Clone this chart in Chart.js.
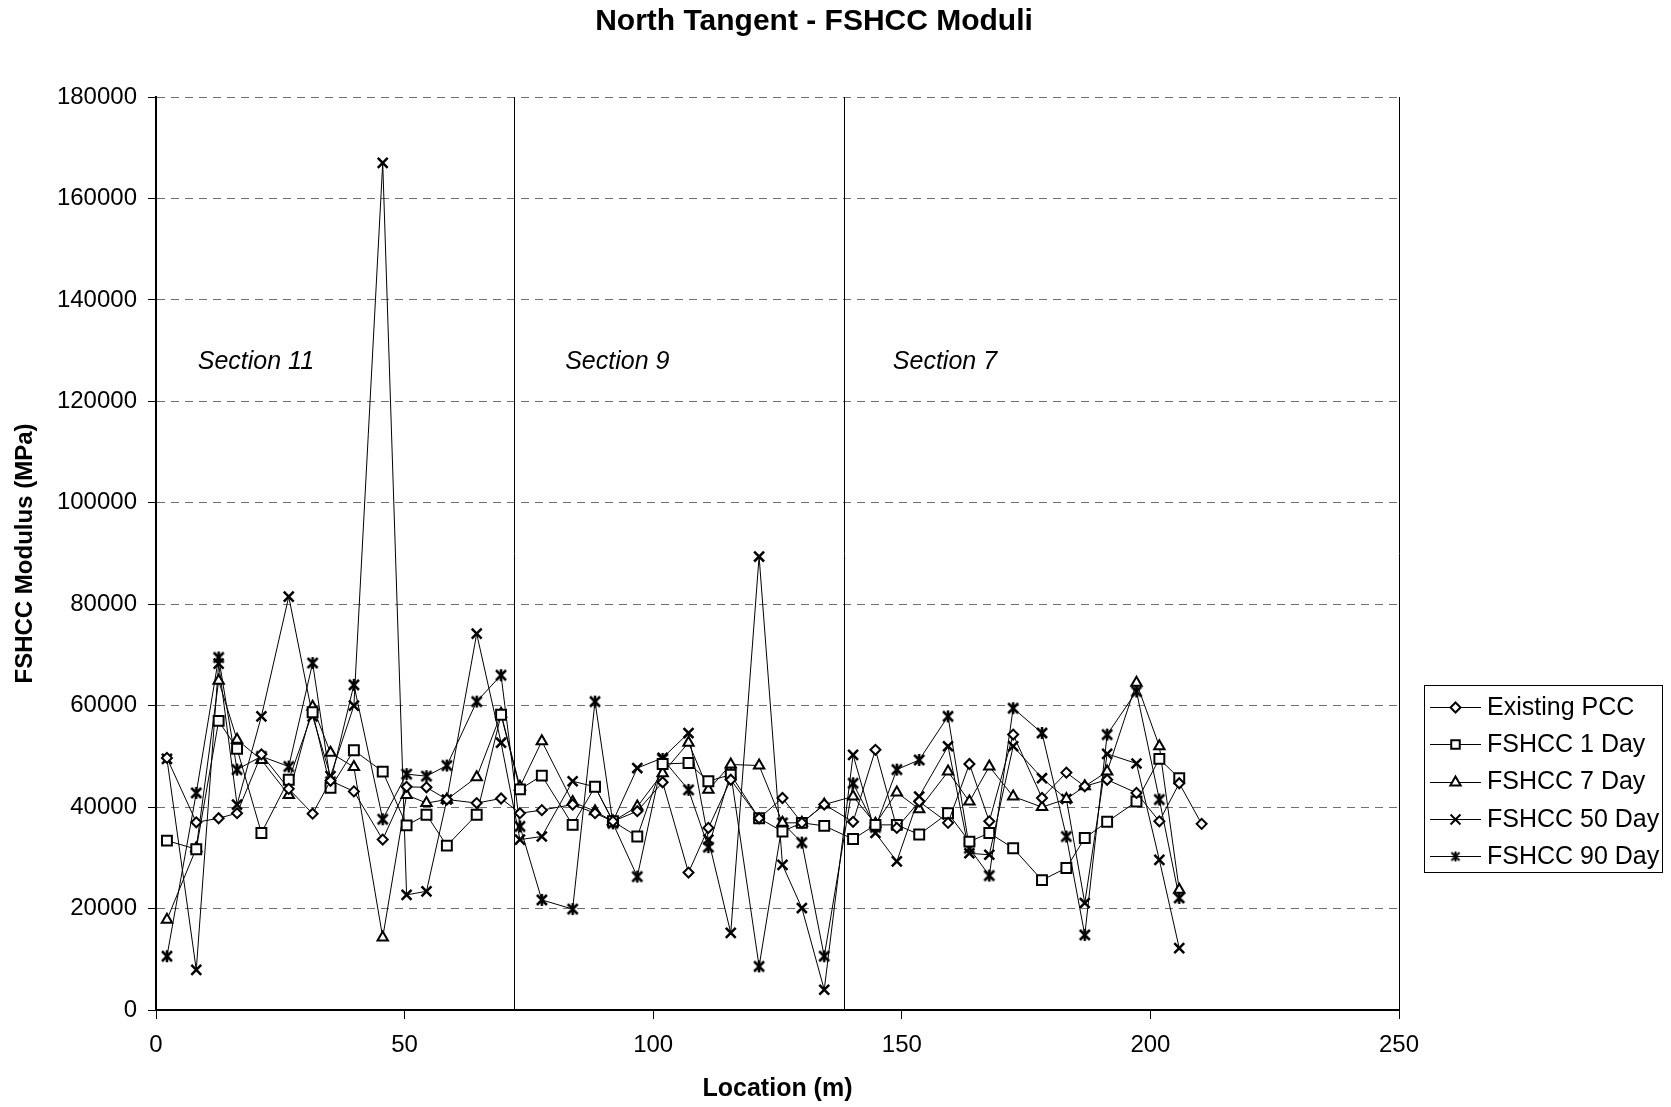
<!DOCTYPE html>
<html>
<head>
<meta charset="utf-8">
<script src="https://cdn.jsdelivr.net/npm/chart.js@4.4.1/dist/chart.umd.min.js"></script>
<style>
  html, body { margin: 0; padding: 0; background: #fff; }
  canvas { display: block; }
</style>
</head>
<body>
<canvas id="myChart" width="1671" height="1107"></canvas>
<script>
// location along the tangent (m), shared by all series
var locations = [2.2, 8.1, 12.6, 16.3, 21.2, 26.7, 31.5, 35.1, 39.8, 45.6,
    50.4, 54.4, 58.5, 64.5, 69.4, 73.2, 77.6, 83.8, 88.3, 91.9,
    96.8, 101.9, 107.1, 111.1, 115.6, 121.3, 126.0, 129.9, 134.4, 140.2,
    144.7, 149.0, 153.5, 159.3, 163.6, 167.6, 172.4, 178.2, 183.1, 186.8,
    191.3, 197.2, 201.8, 205.8, 210.3];

var existingPCC = [49700, 37000, 37800, 38800, 50400, 43600, 38700, 45200, 43100, 33600,
    44000, 43900, 41500, 40800, 41700, 38800, 39400, 40500, 38800, 37200,
    39200, 44900, 27100, 35900, 45400, 37800, 41800, 36900, 40500, 37100,
    51300, 35900, 41100, 36900, 48500, 37200, 54300, 41800, 46800, 44100,
    45400, 42800, 37200, 44700, 36700];

var fshcc1Day = [33400, 31700, 57000, 51500, 34900, 45400, 58700, 43800, 51200, 47000,
    36400, 38500, 32400, 38500, 58200, 43500, 46200, 36500, 44000, 37200,
    34200, 48500, 48700, 45100, 46400, 37800, 35200, 36900, 36300, 33700,
    36500, 36500, 34600, 38800, 33200, 34900, 31900, 25600, 28000, 33900,
    37100, 41100, 49500, 45700, null];

var fshcc7Day = [17800, 31900, 64900, 53300, 49300, 42400, 59800, 50700, 47900, 14300,
    42400, 40800, 41500, 45900, 58400, 44000, 53000, 41000, 39200, 37200,
    40100, 46700, 52700, 43400, 48400, 48200, 36900, 36900, 40500, 42100,
    36700, 42900, 39600, 47000, 41100, 48000, 42100, 40000, 41600, 44100,
    47000, 64500, 52000, 23700, null];

var fshcc50Day = [49500, 7900, 68300, 40500, 57900, 81500, 57900, 46100, 60000, 167000,
    22700, 23400, 41500, 74200, 52700, 33600, 34200, 45100, 44000, 37200,
    47700, 49700, 54600, 33600, 15200, 89400, 28600, 20100, 4000, 50300,
    34900, 29300, 42100, 52000, 30900, 30600, 52000, 45700, 41600, 21100,
    50500, 48600, 29600, 12200, null];

var fshcc90Day = [10600, 42800, 69500, 47400, 50000, 48000, 68400, 45000, 64100, 37600,
    46500, 46100, 48200, 60800, 66000, 36200, 21700, 19900, 60800, 36800,
    26300, 49500, 43400, 32100, 46700, 8600, 36900, 33000, 10600, 44700,
    36000, 47400, 49300, 57900, 31900, 26500, 59500, 54600, 34200, 14800,
    54300, 62800, 41500, 22100, null];

var seriesNames = ['Existing PCC', 'FSHCC 1 Day', 'FSHCC 7 Day', 'FSHCC 50 Day', 'FSHCC 90 Day'];
var yTicks = [0, 20000, 40000, 60000, 80000, 100000, 120000, 140000, 160000, 180000];
var xTicks = [0, 50, 100, 150, 200, 250];

var sectionBreaks = [72, 138.4];
var sectionNames = ['Section 11', 'Section 9', 'Section 7'];
var sectionStarts = [8.4, 82.3, 148.2];
var sectionLabelValue = 127700;

var FONT = '"Liberation Sans", Arial, Helvetica, sans-serif';

function toPoints(values) {
    var pts = [];
    for (var i = 0; i < locations.length; i++) {
        if (values[i] != null) pts.push({ x: locations[i], y: values[i] });
    }
    return pts;
}

// x with a vertical bar, like the spreadsheet's 90 day marker
function makeAsterisk(size, lw) {
    var c = document.createElement('canvas');
    c.width = size;
    c.height = size;
    var g = c.getContext('2d');
    g.strokeStyle = '#000';
    g.lineWidth = lw;
    g.beginPath();
    g.moveTo(2, 2); g.lineTo(size - 2, size - 2);
    g.moveTo(size - 2, 2); g.lineTo(2, size - 2);
    g.moveTo(size / 2, 1); g.lineTo(size / 2, size - 1);
    g.stroke();
    return c;
}

var asterisk = makeAsterisk(14, 2.5);
var asteriskSmall = makeAsterisk(12, 2);

var styles = [
    { pointStyle: 'rectRot', radius: 5, bw: 2 },
    { pointStyle: 'rect', radius: 7, bw: 2 },
    { pointStyle: 'triangle', radius: 6, bw: 2 },
    { pointStyle: 'crossRot', radius: 7, bw: 2.5 },
    { pointStyle: asterisk, radius: 7, bw: 2 }
];
var legendStyles = [
    { pointStyle: 'rectRot', radius: 5 },
    { pointStyle: 'rect', radius: 6 },
    { pointStyle: 'triangle', radius: 6 },
    { pointStyle: 'crossRot', radius: 7 },
    { pointStyle: asteriskSmall, radius: 6 }
];

var allValues = [existingPCC, fshcc1Day, fshcc7Day, fshcc50Day, fshcc90Day];
var datasets = [];
for (var s = 0; s < allValues.length; s++) {
    datasets.push({
        label: seriesNames[s],
        data: toPoints(allValues[s]),
        showLine: true,
        borderColor: '#000',
        borderWidth: 1,
        backgroundColor: '#fff',
        pointStyle: styles[s].pointStyle,
        pointRadius: styles[s].radius,
        pointHoverRadius: styles[s].radius,
        pointBorderColor: '#000',
        pointBackgroundColor: '#fff',
        pointBorderWidth: styles[s].bw,
        tension: 0
    });
}

var extras = {
    id: 'extras',
    beforeDatasetsDraw: function (chart) {
        var ctx = chart.ctx;
        var a = chart.chartArea;
        var xs = chart.scales.x;
        ctx.save();
        ctx.strokeStyle = '#000';
        ctx.lineWidth = 1;
        ctx.beginPath();
        ctx.moveTo(Math.round(a.right) + 0.5, a.top);
        ctx.lineTo(Math.round(a.right) + 0.5, a.bottom);
        for (var i = 0; i < sectionBreaks.length; i++) {
            var px = Math.round(xs.getPixelForValue(sectionBreaks[i])) + 0.5;
            ctx.moveTo(px, a.top);
            ctx.lineTo(px, a.bottom);
        }
        ctx.stroke();
        ctx.restore();
    },
    afterDraw: function (chart) {
        var ctx = chart.ctx;
        var xs = chart.scales.x;
        var ys = chart.scales.y;
        ctx.save();
        ctx.fillStyle = '#000';

        // title
        ctx.font = 'bold 30px ' + FONT;
        ctx.textAlign = 'center';
        ctx.textBaseline = 'middle';
        ctx.fillText('North Tangent - FSHCC Moduli', 814, 22);

        // section names
        ctx.font = 'italic 25px ' + FONT;
        ctx.textAlign = 'left';
        for (var i = 0; i < sectionNames.length; i++) {
            ctx.fillText(sectionNames[i], xs.getPixelForValue(sectionStarts[i]), ys.getPixelForValue(sectionLabelValue));
        }

        // legend
        var L = 1424, T = 685, W = 238, H = 187;
        ctx.fillStyle = '#fff';
        ctx.fillRect(L, T, W, H);
        ctx.strokeStyle = '#000';
        ctx.lineWidth = 1;
        ctx.strokeRect(L + 0.5, T + 0.5, W, H);
        ctx.font = '25px ' + FONT;
        for (var k = 0; k < seriesNames.length; k++) {
            var y = 707 + k * 37.3;
            ctx.strokeStyle = '#000';
            ctx.lineWidth = 1;
            ctx.beginPath();
            ctx.moveTo(1430, Math.round(y) + 0.5);
            ctx.lineTo(1481, Math.round(y) + 0.5);
            ctx.stroke();
            ctx.fillStyle = '#fff';
            ctx.lineWidth = 2;
            Chart.helpers.drawPoint(ctx, {
                pointStyle: legendStyles[k].pointStyle,
                radius: legendStyles[k].radius,
                borderWidth: 2,
                rotation: 0
            }, 1455.5, Math.round(y) + 0.5);
            ctx.fillStyle = '#000';
            ctx.textAlign = 'left';
            ctx.textBaseline = 'middle';
            ctx.fillText(seriesNames[k], 1487, y + 1);
        }
        ctx.restore();
    }
};

var ctx = document.getElementById('myChart').getContext('2d');
var myChart = new Chart(ctx, {
    type: 'scatter',
    data: { datasets: datasets },
    options: {
        responsive: false,
        animation: false,
        devicePixelRatio: 1,
        layout: {
            autoPadding: false,
            padding: { left: 0, top: 97, right: 272, bottom: 0 }
        },
        plugins: {
            legend: { display: false },
            title: { display: false },
            tooltip: { enabled: false }
        },
        scales: {
            x: {
                type: 'linear',
                min: 0,
                max: 250,
                afterFit: function (scale) { scale.height = 97; },
                afterBuildTicks: function (scale) {
                    scale.ticks = xTicks.map(function (v) { return { value: v }; });
                },
                ticks: {
                    color: '#000',
                    font: { family: FONT, size: 24 },
                    padding: 12,
                    maxRotation: 0,
                    callback: function (v) { return String(v); }
                },
                grid: {
                    drawOnChartArea: false,
                    drawTicks: true,
                    tickLength: 9,
                    tickColor: '#000',
                    tickWidth: 1
                },
                border: { display: true, color: '#000', width: 2 },
                title: {
                    display: true,
                    text: 'Location (m)',
                    color: '#000',
                    font: { family: FONT, size: 25, weight: 'bold' },
                    padding: { top: 0, bottom: 3 }
                }
            },
            y: {
                type: 'linear',
                min: 0,
                max: 180000,
                afterFit: function (scale) { scale.width = 156; },
                afterBuildTicks: function (scale) {
                    scale.ticks = yTicks.map(function (v) { return { value: v }; });
                },
                ticks: {
                    color: '#000',
                    font: { family: FONT, size: 24 },
                    padding: 11,
                    callback: function (v) { return String(v); }
                },
                grid: {
                    color: '#707070',
                    lineWidth: 1,
                    drawTicks: true,
                    tickLength: 8,
                    tickColor: '#000',
                    tickWidth: 1
                },
                border: { display: true, color: '#000', width: 2, dash: [8, 6] },
                title: {
                    display: true,
                    text: 'FSHCC Modulus (MPa)',
                    color: '#000',
                    font: { family: FONT, size: 24, weight: 'bold' },
                    padding: { top: 11, bottom: 0 }
                }
            }
        }
    },
    plugins: [extras]
});
</script>
</body>
</html>
